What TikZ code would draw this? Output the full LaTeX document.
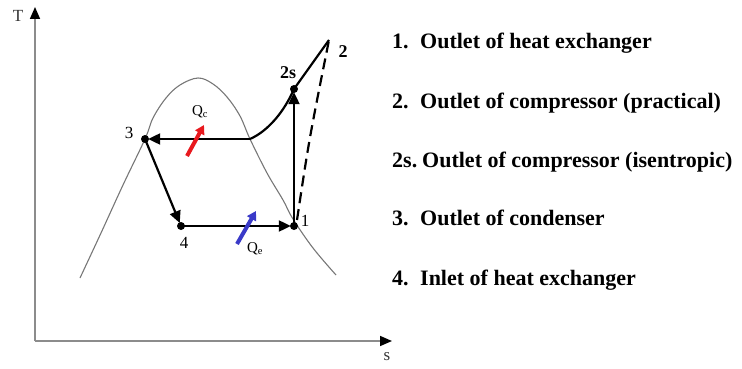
\documentclass[tikz,border=0pt]{standalone}
\usepackage{fontspec}
\setmainfont{Liberation Serif}
\usetikzlibrary{arrows.meta}
\definecolor{axisgray}{HTML}{8C8C8C}
\definecolor{domegray}{HTML}{777777}
\definecolor{qred}{HTML}{E8191E}
\definecolor{qblue}{HTML}{3A3AC8}
\tikzset{
  axisline/.style={draw=axisgray, line width=1.6pt, -{Triangle[length=12pt,width=10pt,black]}},
  axislabel/.style={font=\fontsize{17}{17}\selectfont, text=black!80, inner sep=0pt},
  dome/.style={draw=domegray, line width=1.1pt},
  cyc/.style={draw=black, line width=2.2pt},
  cycarrow/.style={cyc, -{Triangle[length=12pt,width=11pt]}, shorten >=-1pt},
  dot/.style={circle, fill=black, minimum size=8pt, inner sep=0pt},
  ptlabel/.style={font=\fontsize{17}{17}\selectfont, inner sep=0pt},
  boldlabel/.style={font=\fontsize{18}{18}\selectfont\bfseries, inner sep=0pt},
  qarrow/.style={line width=4pt, -{Triangle[length=9pt,width=10pt]}},
  qlabel/.style={font=\fontsize{15}{15}\selectfont, inner sep=0pt},
  legend/.style={font=\fontsize{22}{22}\selectfont\bfseries, anchor=base west, inner sep=0pt}
}
\begin{document}
\begin{tikzpicture}[x=1pt,y=-1pt]
\useasboundingbox (0,0) rectangle (742,369);
% axes
\coordinate (origin) at (35,341);
\coordinate (ytip) at (35,7);
\coordinate (xtip) at (392,341);
\draw[axisline] (origin) -- (ytip);
\draw[axisline] (origin) -- (xtip);
\node[axislabel] (T) at (18,16) {T};
\node[axislabel] (s) at (387,357) {s};
% saturation dome
\draw[dome] plot[smooth, tension=0.6] coordinates {(80,278) (101,233) (123,185) (145,139) (153,118) (166,98) (180,85) (198,78) (213,84) (227,97) (240,116) (250,139) (267,173) (283,200) (293,219) (313,248) (336,275)};
% cycle points
\node[dot] (p3) at (145,139) {};
\node[dot] (p4) at (181,226) {};
\node[dot] (p1) at (294,226) {};
\node[dot] (p2s) at (294,89) {};
\coordinate (p2) at (329,40);
\coordinate (sv) at (250,139);
% cycle lines
\draw[cycarrow] (sv) -- (p3);
\draw[cycarrow] (p3.center) -- (p4);
\draw[cycarrow] (p4.center) -- (p1);
\draw[cycarrow] (p1.center) -- (p2s);
\draw[cyc] (sv) .. controls (268,131) and (284,112) .. (p2s.center) -- (p2);
\draw[cyc, dash pattern=on 11pt off 6pt] (p1.center) ++(3,-6) .. controls (309,140) .. (p2);
% heat arrows
\coordinate (qcs) at (187,156);
\coordinate (qce) at (204,125);
\coordinate (qes) at (237,244);
\coordinate (qee) at (256,211);
\draw[qarrow, qred] (qcs) -- (qce);
\draw[qarrow, qblue] (qes) -- (qee);
% labels
\node[qlabel] (Qc) at (200,112) {Q$_\mathrm{c}$};
\node[qlabel] (Qe) at (255,249) {Q$_\mathrm{e}$};
\node[ptlabel] (l3) at (129,133) {3};
\node[ptlabel] (l4) at (184,243) {4};
\node[ptlabel] (l1) at (305,221) {1};
\node[boldlabel] (l2s) at (288,73) {2s};
\node[boldlabel] (l2) at (343,52) {2};
% legend
\node[legend] (n1) at (392,49) {1.};
\node[legend] (t1) at (420,49) {Outlet of heat exchanger};
\node[legend] (n2) at (392,109) {2.};
\node[legend] (t2) at (420,109) {Outlet of compressor (practical)};
\node[legend] (n2s) at (392,167) {2s.};
\node[legend] (t2s) at (422,167) {Outlet of compressor (isentropic)};
\node[legend] (n3) at (392,225) {3.};
\node[legend] (t3) at (420,225) {Outlet of condenser};
\node[legend] (n4) at (392,285) {4.};
\node[legend] (t4) at (420,285) {Inlet of heat exchanger};
\end{tikzpicture}
\end{document}
